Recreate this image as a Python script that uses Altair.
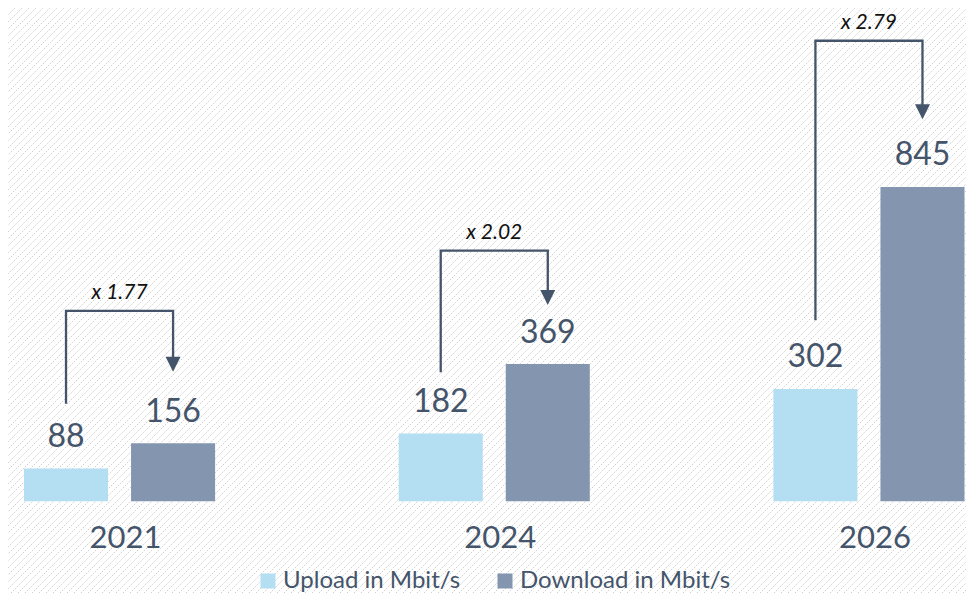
import altair as alt
import numpy as np
import pandas as pd

# ---- data ----
years = ["2021", "2024", "2026"]
series = ["Upload in Mbit/s", "Download in Mbit/s"]
upload = [88, 182, 302]
download = [156, 369, 845]
multipliers = ["x 1.77", "x 2.02", "x 2.79"]
# arrow annotation levels (in Mbit/s units)
arrow_start = [262, 347, 487]
arrow_top = [512, 674, 1238]
arrow_tip = [348, 528, 1027]

W, H = 958, 585
PX_PER_UNIT = 0.372
BASE_PX = 493.3
Y_DOMAIN = [-(H - BASE_PX) / PX_PER_UNIT, BASE_PX / PX_PER_UNIT]

TEXT = "#44546a"
C_UP = "#b4def2"
C_DOWN = "#8495b0"
FONT = "Lato"

bars_df = pd.DataFrame(
    [{"year": y, "series": series[0], "value": u} for y, u in zip(years, upload)]
    + [{"year": y, "series": series[1], "value": d} for y, d in zip(years, download)]
)

arrow_rows = []
head_units = 8 / PX_PER_UNIT
for y, s, t, tip in zip(years, arrow_start, arrow_top, arrow_tip):
    arrow_rows += [
        {"year": y, "series": series[0], "v": s, "o": 0},
        {"year": y, "series": series[0], "v": t, "o": 1},
        {"year": y, "series": series[1], "v": t, "o": 2},
        {"year": y, "series": series[1], "v": tip + head_units, "o": 3},
    ]
arrow_df = pd.DataFrame(arrow_rows)
tip_df = pd.DataFrame({"year": years, "series": series[1], "v": arrow_tip})
mult_df = pd.DataFrame({"year": years, "label": multipliers, "v": arrow_top})
year_df = pd.DataFrame({"year": years})

# background hatch (decorative)
offs = np.arange(-H, W + 7, 7)
hatch_df = pd.DataFrame({"x0": offs, "x1": offs + H, "y0": 0, "y1": H})

hatch = alt.Chart(hatch_df).mark_rule(
    color="#cfcfcf", strokeWidth=1, strokeDash=[1.5, 1.2], clip=True
).encode(
    x=alt.X("x0:Q", axis=None, scale=alt.Scale(domain=[0, W], nice=False, zero=False)),
    x2="x1:Q",
    y=alt.Y("y0:Q", axis=None, scale=alt.Scale(domain=[0, H], nice=False, zero=False)),
    y2="y1:Q",
)

xs = alt.X("year:N", axis=None,
           scale=alt.Scale(domain=years, range=[16, 956.5], paddingInner=0.49, paddingOuter=0))
xo = alt.XOffset("series:N", scale=alt.Scale(domain=series, paddingInner=0.215, paddingOuter=0))
ys = alt.Y("value:Q", axis=None, scale=alt.Scale(domain=Y_DOMAIN, nice=False, zero=False))

bars = alt.Chart(bars_df).mark_bar().encode(
    x=xs, xOffset=xo, y=ys,
    y2=alt.datum(0),
    color=alt.Color(
        "series:N",
        scale=alt.Scale(domain=series, range=[C_UP, C_DOWN]),
        legend=alt.Legend(
            orient="none", legendX=248, legendY=561, direction="horizontal", title=None,
            symbolType="square", symbolSize=225, symbolStrokeWidth=0, symbolOpacity=1,
            labelFontSize=24, labelFont=FONT, labelColor=TEXT, labelOffset=3,
            labelLimit=500, columnPadding=32, padding=0,
        ),
    ),
)

values = alt.Chart(bars_df).mark_text(
    font=FONT, fontSize=32, color=TEXT, baseline="alphabetic", align="center", dy=-21.5
).encode(x=xs, xOffset=xo, y=ys, text="value:Q")

arrows = alt.Chart(arrow_df).mark_line(color=TEXT, strokeWidth=2.3, strokeJoin="miter").encode(
    x=xs, xOffset=xo,
    y=alt.Y("v:Q", axis=None, scale=alt.Scale(domain=Y_DOMAIN, nice=False, zero=False)),
    order="o:Q", detail="year:N",
)

heads = alt.Chart(tip_df).mark_point(
    shape="M-1,-1L1,-1L0,1Z", size=225, filled=True, color=TEXT, opacity=1, yOffset=-7.5
).encode(
    x=xs, xOffset=xo,
    y=alt.Y("v:Q", axis=None, scale=alt.Scale(domain=Y_DOMAIN, nice=False, zero=False)),
)

mults = alt.Chart(mult_df).mark_text(
    font=FONT, fontSize=21, fontStyle="italic", color="#111111", baseline="alphabetic", dy=-12
).encode(
    x=xs,
    y=alt.Y("v:Q", axis=None, scale=alt.Scale(domain=Y_DOMAIN, nice=False, zero=False)),
    text="label:N",
)

year_labels = alt.Chart(year_df).mark_text(
    font=FONT, fontSize=31, color=TEXT, baseline="alphabetic", dx=6
).encode(x=xs, y=alt.value(540), text="year:N")

main = alt.layer(arrows, heads, bars, values, mults, year_labels)

chart = alt.layer(hatch, main).resolve_scale(
    x="independent", y="independent"
).properties(
    width=W, height=H, padding=0, background="white",
    autosize=alt.AutoSizeParams(type="fit", contains="padding"),
).configure_view(stroke=None)

chart.save("out.html", embed_options={"renderer": "svg", "actions": False})
